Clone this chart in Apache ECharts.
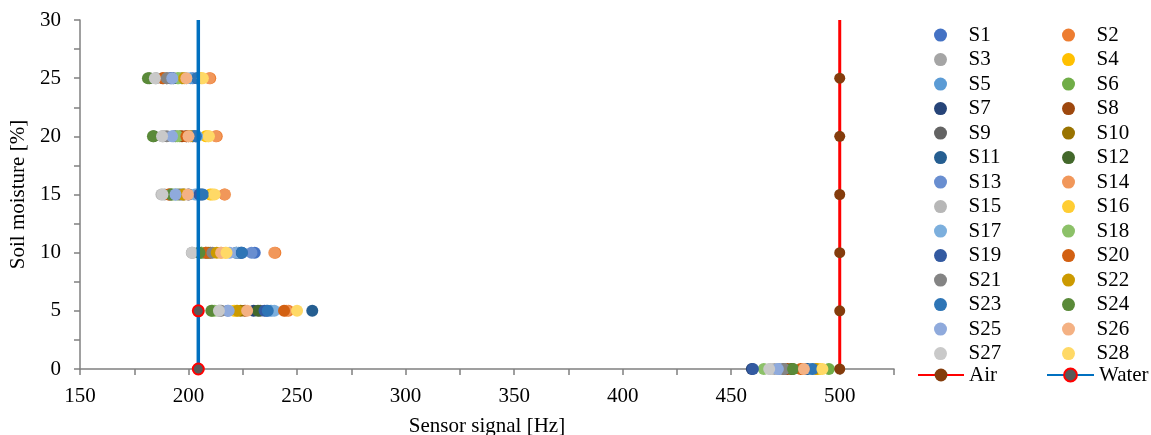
<!DOCTYPE html>
<html>
<head>
<meta charset="utf-8">
<script src="https://cdn.jsdelivr.net/npm/echarts@6/dist/echarts.min.js"></script>
<style>
  html, body { margin: 0; padding: 0; background: #fff; }
  #chart { width: 1151px; height: 435px; }
</style>
</head>
<body>
<div id="chart"></div>
<script>
// moisture levels [%] and sensor readings [Hz] per level, S1..S28
const moistureLevels = [0, 5, 10, 15, 20, 25];

const signalAt0 = [484, 486, 470, 490, 486, 495, 459.5, 476, 474, 478, 485, 478, 472, 483,
  468, 491, 487, 465, 460, 482, 474.5, 489, 487.5, 478.5, 471.5, 483.5, 467.5, 492];
const signalAt5 = [236, 246, 214, 221, 238, 211, 230, 226, 233, 224, 257, 232, 218, 245,
  214.5, 222, 239.5, 212, 235, 244, 215, 222.5, 236.5, 210.5, 218.5, 227, 214, 250];
const signalAt10 = [230.5, 240, 201.5, 215, 223, 205, 222, 210, 208, 209, 224, 206, 229, 239.5,
  202, 217, 222, 206, 224.5, 208, 211, 213, 224.6, 205, 219, 215, 201.6, 217.5];
const signalAt15 = [205, 216.5, 189, 210, 204, 195, 200, 191, 196, 198, 206, 192, 194, 216.8,
  187.5, 211, 203, 193, 205, 191, 197, 197.5, 206.6, 192, 194, 199.7, 188, 212];
const signalAt20 = [203, 213, 188, 208, 202, 196, 199, 197, 194, 200, 203.5, 184, 193, 212.5,
  188.5, 209, 204, 195, 202, 199, 190, 201, 203.4, 183.6, 192.4, 200, 187.8, 209.4];
const signalAt25 = [202, 210, 185, 205, 201, 195, 193, 188, 190, 197, 204, 182, 191.5, 209.5,
  185, 206, 199, 195.5, 192, 188.5, 190, 198, 204, 181.3, 192.5, 199, 184.5, 206.6];

const sensorColors = [
  '#4472C4', '#ED7D31', '#A5A5A5', '#FFC000', '#5B9BD5', '#70AD47',
  '#264478', '#9E480E', '#636363', '#997300', '#255E91', '#43682B',
  '#698ED0', '#F1975A', '#B7B7B7', '#FFCD33', '#7CAFDD', '#8CC168',
  '#335AA1', '#D26012', '#848484', '#CC9A00', '#2E75B6', '#5A8A39',
  '#8FAADC', '#F4B183', '#C9C9C9', '#FFD966',
];

// reference lines
const airSignal = 500;
const airLevels = [0, 5, 10, 15, 20, 25, 30];
const waterSignal = 204.5;
const waterLevels = [0, 5, 30];

const FONT = 'Liberation Serif';
const signalsByLevel = [signalAt0, signalAt5, signalAt10, signalAt15, signalAt20, signalAt25];
const sensorNames = sensorColors.map((c, i) => 'S' + (i + 1));

const series = sensorNames.map((name, i) => ({
  name,
  type: 'scatter',
  symbol: 'circle',
  symbolSize: 12,
  itemStyle: { color: sensorColors[i], opacity: 1 },
  emphasis: { disabled: true },
  data: moistureLevels.map((lvl, k) => [signalsByLevel[k][i], lvl]),
}));

series.push({
  name: 'Air',
  type: 'line',
  symbol: 'circle',
  symbolSize: 11,
  showAllSymbol: true,
  lineStyle: { color: '#FF0000', width: 3 },
  itemStyle: { color: '#843C0C' },
  emphasis: { disabled: true },
  data: airLevels.map((lvl) => ({
    value: [airSignal, lvl],
    symbolSize: lvl === 30 ? 0 : 11,
  })),
});

series.push({
  name: 'Water',
  type: 'line',
  symbol: 'circle',
  symbolSize: 11,
  showAllSymbol: true,
  lineStyle: { color: '#0070C0', width: 3.5 },
  itemStyle: { color: '#595959', borderColor: '#FF0000', borderWidth: 2 },
  emphasis: { disabled: true },
  data: waterLevels.map((lvl) => ({
    value: [waterSignal, lvl],
    symbolSize: lvl === 30 ? 0 : 11,
  })),
});

const legendText = { fontFamily: FONT, fontSize: 21, color: '#000', lineHeight: 20 };
const odd = sensorNames.filter((n, i) => i % 2 === 0);
const even = sensorNames.filter((n, i) => i % 2 === 1);

const axisFont = { fontFamily: FONT, fontSize: 21, color: '#000' };
const axisLine = { show: true, lineStyle: { color: '#808080', width: 1.5 } };
const axisTick = { show: true, inside: false, length: 6, lineStyle: { color: '#808080', width: 1.5 } };

const chart = echarts.init(document.getElementById('chart'));
chart.setOption({
  animation: false,
  backgroundColor: '#fff',
  grid: {
    left: 80, right: 257, top: 20, bottom: 66,
    containLabel: false, outerBoundsMode: 'none',
  },
  legend: [
    {
      data: odd, orient: 'vertical', left: 929, top: 19.6, height: 400,
      itemWidth: 46, itemHeight: 13, itemGap: 3.5, textStyle: legendText,
    },
    {
      data: even, orient: 'vertical', left: 1057, top: 19.6, height: 400,
      itemWidth: 46, itemHeight: 13, itemGap: 3.5, textStyle: legendText,
    },
    {
      data: ['Air'], left: 912, top: 359.5,
      itemWidth: 46, itemHeight: 16, textStyle: legendText,
    },
    {
      data: ['Water'], left: 1041, top: 359.5,
      itemWidth: 47, itemHeight: 16, textStyle: legendText,
    },
  ],
  xAxis: {
    type: 'value',
    min: 150,
    max: 525,
    interval: 25,
    name: 'Sensor signal [Hz]',
    nameLocation: 'middle',
    nameGap: 47,
    nameTextStyle: axisFont,
    axisLine,
    axisTick,
    splitLine: { show: false },
    axisLabel: {
      ...axisFont,
      margin: 17,
      formatter: (v) => (v % 50 === 0 && v <= 500 ? String(v) : ''),
    },
  },
  yAxis: {
    type: 'value',
    min: 0,
    max: 30,
    interval: 2.5,
    name: 'Soil moisture [%]',
    nameLocation: 'middle',
    nameGap: 50,
    nameTextStyle: axisFont,
    axisLine,
    axisTick,
    splitLine: { show: false },
    axisLabel: {
      ...axisFont,
      margin: 19,
      formatter: (v) => (v % 5 === 0 ? String(v) : ''),
    },
  },
  series,
});
</script>
</body>
</html>
